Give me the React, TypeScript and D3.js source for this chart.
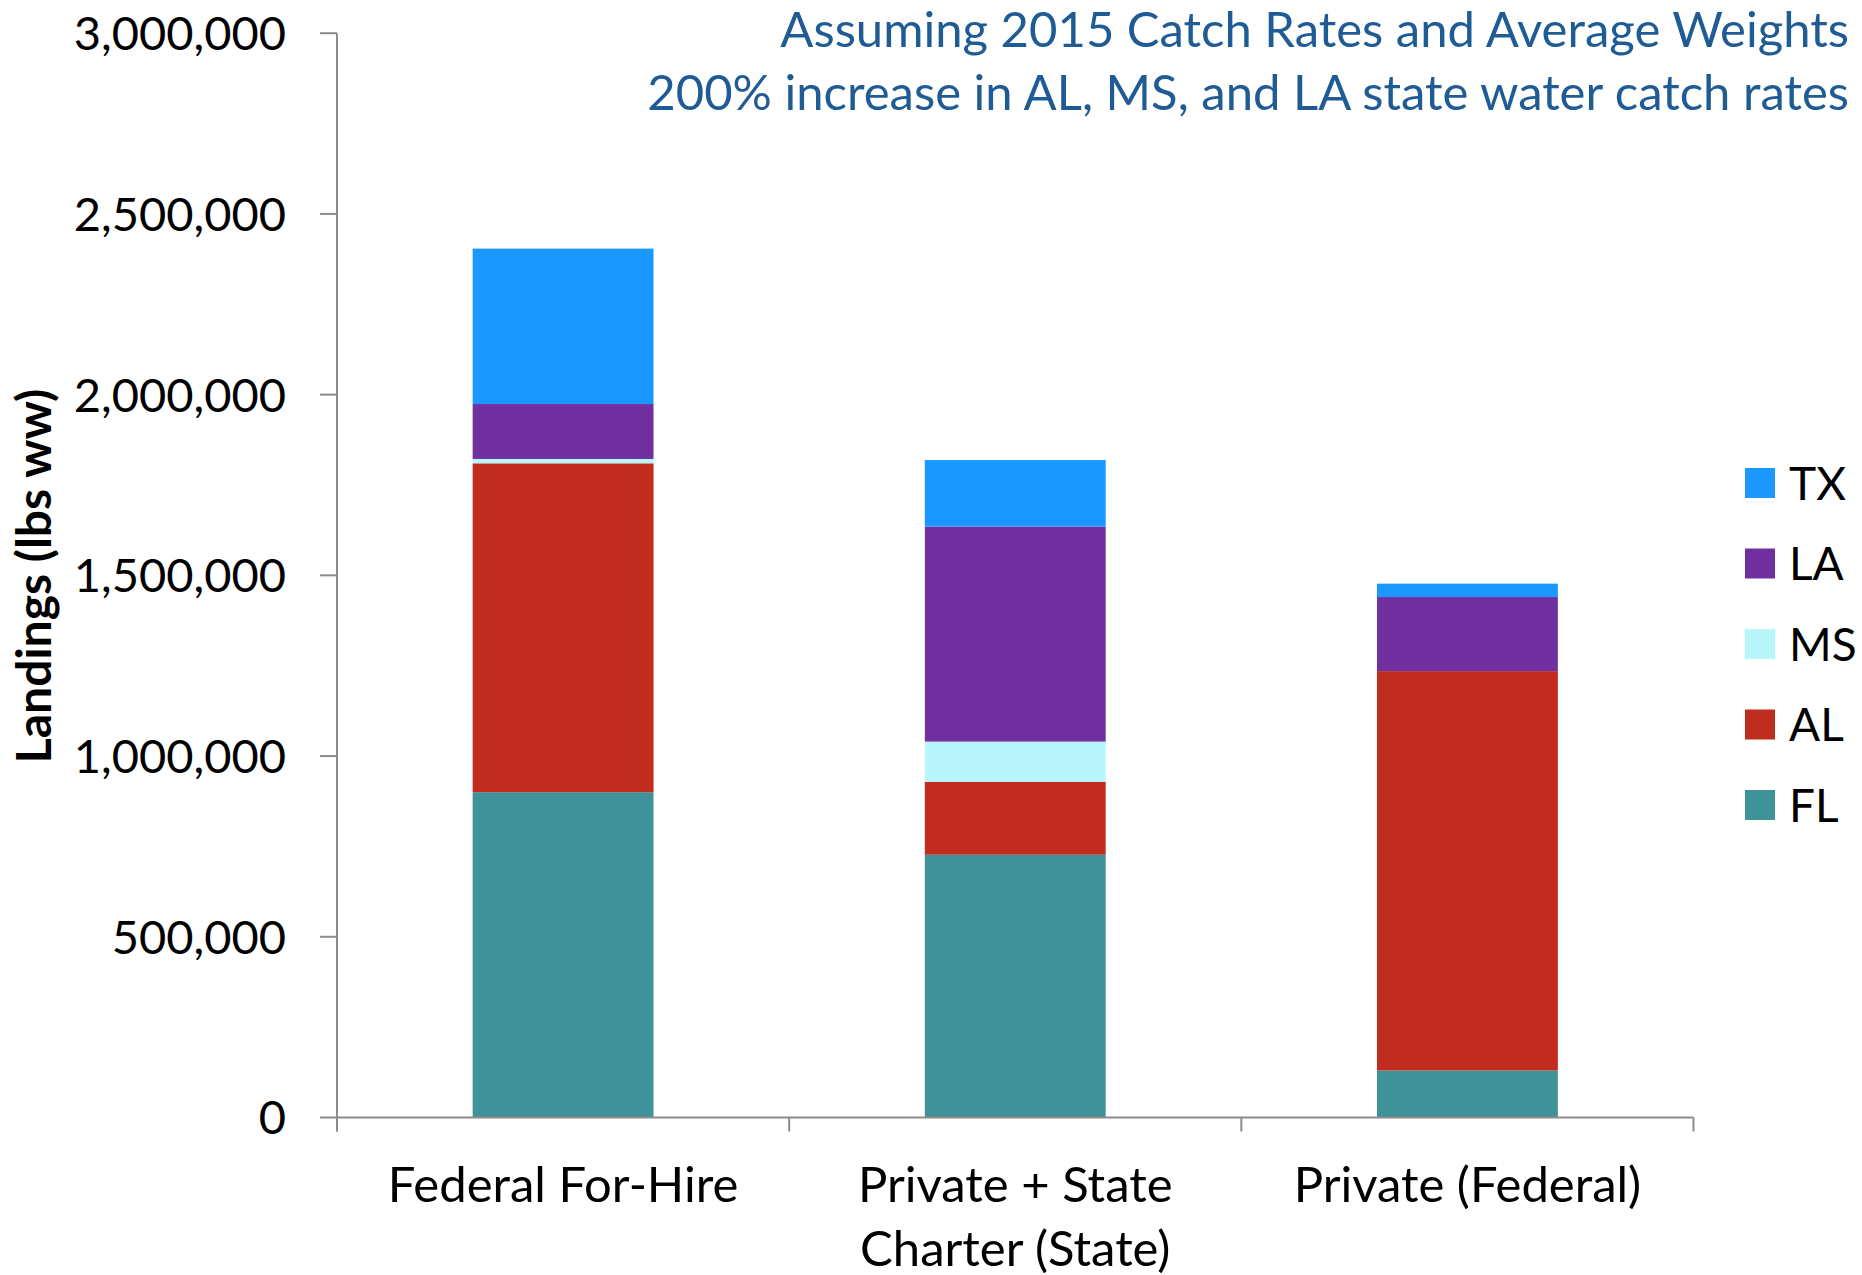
import React from "react";
import * as d3 from "d3";

const categories = ["Federal For-Hire", "Private + State|Charter (State)", "Private (Federal)"];
const seriesKeys = ["FL", "AL", "MS", "LA", "TX"];
const FL = [900000, 727000, 130000];
const AL = [910000, 202000, 1105000];
const MS = [12000, 111000, 0];
const LA = [152000, 595000, 205000];
const TX = [430000, 184000, 37000];
const yTicks = [0, 500000, 1000000, 1500000, 2000000, 2500000, 3000000];
const colors: Record<string, string> = {
  FL: "#40929A",
  AL: "#C02C1E",
  MS: "#B7F7FC",
  LA: "#7030A0",
  TX: "#1B98FF",
};
const titleLines = [
  "Assuming 2015 Catch Rates and Average Weights",
  "200% increase in AL, MS, and LA state water catch rates",
];
const yAxisTitle = "Landings (lbs ww)";
const legendOrder = ["TX", "LA", "MS", "AL", "FL"];

const W = 1862;
const H = 1275;
const FONT = "Lato, 'Open Sans', sans-serif";

export default function App() {
  const values: Record<string, number[]> = { FL, AL, MS, LA, TX };
  const rows = categories.map((c, i) => {
    const r: any = { cat: c };
    seriesKeys.forEach((k) => (r[k] = values[k][i]));
    return r;
  });
  const stacked = d3.stack().keys(seriesKeys)(rows);

  const left = 337;
  const right = 1693.5;
  const y = d3.scaleLinear().domain([0, 3000000]).range([1117.5, 33.2]);
  const x = d3
    .scaleBand<string>()
    .domain(categories)
    .range([left, right])
    .paddingInner(0.6)
    .paddingOuter(0.3);
  const step = x.step();
  const fmt = d3.format(",");
  const axisColor = "#8c8c8c";

  return (
    <svg
      width={W}
      height={H}
      style={{ position: "absolute", left: 0, top: 0, background: "#fff" }}
      fontFamily={FONT}
    >
      {/* bars */}
      {stacked.map((s) => (
        <g key={s.key} fill={colors[s.key]}>
          {s.map((d: any, i: number) =>
            d[1] - d[0] > 0 ? (
              <rect
                key={i}
                x={x(categories[i])}
                width={x.bandwidth()}
                y={y(d[1])}
                height={y(d[0]) - y(d[1])}
              />
            ) : null
          )}
        </g>
      ))}

      {/* y axis */}
      <line x1={left} x2={left} y1={y(3000000)} y2={y(0) + 14} stroke={axisColor} strokeWidth={2} />
      {yTicks.map((t) => (
        <g key={t}>
          <line x1={left - 17} x2={left} y1={y(t)} y2={y(t)} stroke={axisColor} strokeWidth={2} />
          <text x={286} y={y(t)} dy="0.36em" textAnchor="end" fontSize={47} fill="#000">
            {fmt(t)}
          </text>
        </g>
      ))}

      {/* x axis */}
      <line x1={left} x2={right} y1={y(0)} y2={y(0)} stroke={axisColor} strokeWidth={2} />
      {d3.range(categories.length + 1).map((i) => (
        <line
          key={i}
          x1={left + i * step}
          x2={left + i * step}
          y1={y(0)}
          y2={y(0) + 14}
          stroke={axisColor}
          strokeWidth={2}
        />
      ))}
      {categories.map((c) => (
        <text
          key={c}
          x={(x(c) as number) + x.bandwidth() / 2}
          y={1202}
          textAnchor="middle"
          fontSize={49}
          fill="#000"
        >
          {c.split("|").map((line, j) => (
            <tspan key={j} x={(x(c) as number) + x.bandwidth() / 2} dy={j === 0 ? 0 : 64}>
              {line}
            </tspan>
          ))}
        </text>
      ))}

      {/* y axis title */}
      <text
        transform={`translate(51, 576) rotate(-90)`}
        textAnchor="middle"
        fontSize={48}
        fontWeight="bold"
        fill="#000"
      >
        {yAxisTitle}
      </text>

      {/* title */}
      {titleLines.map((t, i) => (
        <text key={i} x={1849} y={47 + i * 63} textAnchor="end" fontSize={49} fill="#1F5B94">
          {t}
        </text>
      ))}

      {/* legend */}
      {legendOrder.map((k, i) => (
        <g key={k} transform={`translate(1745, ${468 + i * 80.5})`}>
          <rect width={30} height={30} fill={colors[k]} />
          <text x={44} y={15} dy="0.36em" fontSize={46} fill="#000">
            {k}
          </text>
        </g>
      ))}
    </svg>
  );
}
